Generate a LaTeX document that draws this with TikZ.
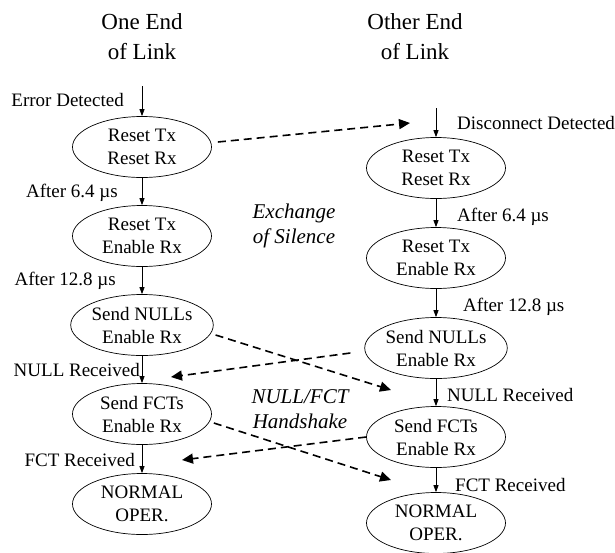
\documentclass[tikz,border=0pt]{standalone}
\usepackage{fontspec}
\setmainfont{Liberation Serif}
\usetikzlibrary{shapes.geometric,arrows.meta}
\begin{document}
\begin{tikzpicture}[x=1pt,y=-1pt,
  state/.style={draw,ellipse,line width=0.7pt,minimum width=139pt,minimum height=61pt,inner sep=0pt,align=center,font=\fontsize{19}{23}\selectfont},
  lbl/.style={inner sep=0pt,font=\fontsize{19}{23}\selectfont},
  ital/.style={inner sep=0pt,align=center,font=\fontsize{21}{25}\selectfont\itshape},
  ttl/.style={inner sep=0pt,align=center,font=\fontsize{23}{30}\selectfont},
  flow/.style={line width=0.8pt,-{Triangle[length=7pt,width=5pt]}},
  msg/.style={line width=1.6pt,dash pattern=on 8pt off 5pt,-{Triangle[length=11pt,width=10pt]}}]
\useasboundingbox (0,0) rectangle (615,552);
% titles
\node[ttl] (t1) at (142,37) {One End\\of Link};
\node[ttl] (t2) at (415,37) {Other End\\of Link};
% left column
\node[state] (L1) at (142,147) {Reset Tx\\Reset Rx};
\node[state] (L2) at (142,236) {Reset Tx\\Enable Rx};
\node[state] (L3) at (142,325) {Send NULLs\\Enable Rx};
\node[state] (L4) at (142,414) {Send FCTs\\Enable Rx};
\node[state] (L5) at (142,504) {NORMAL\\OPER.};
% right column
\node[state] (R1) at (436,168) {Reset Tx\\Reset Rx};
\node[state] (R2) at (436,258) {Reset Tx\\Enable Rx};
\node[state] (R3) at (436,348) {Send NULLs\\Enable Rx};
\node[state] (R4) at (436,437) {Send FCTs\\Enable Rx};
\node[state] (R5) at (436,523) {NORMAL\\OPER.};
% entry points
\coordinate (Lin) at (142,86);
\coordinate (Rin) at (436,108);
\draw[flow] (Lin) -- (L1.north);
\draw[flow] (Rin) -- (R1.north);
\draw[flow] (L1) -- (L2);
\draw[flow] (L2) -- (L3);
\draw[flow] (L3) -- (L4);
\draw[flow] (L4) -- (L5);
\draw[flow] (R1) -- (R2);
\draw[flow] (R2) -- (R3);
\draw[flow] (R3) -- (R4);
\draw[flow] (R4) -- (R5);
% left labels
\node[lbl,anchor=east] (le1) at (124,100) {Error Detected};
\node[lbl,anchor=east] (le2) at (118,193) {After 6.4 µs};
\node[lbl,anchor=east] (le3) at (116,281) {After 12.8 µs};
\node[lbl,anchor=east] (le4) at (140,370) {NULL Received};
\node[lbl,anchor=east] (le5) at (135,460) {FCT Received};
% right labels
\node[lbl,anchor=west] (re1) at (457,123) {Disconnect Detected};
\node[lbl,anchor=west] (re2) at (457,217) {After 6.4 µs};
\node[lbl,anchor=west] (re3) at (463,307) {After 12.8 µs};
\node[lbl,anchor=west] (re4) at (447,395) {NULL Received};
\node[lbl,anchor=west] (re5) at (455,485) {FCT Received};
% italic notes
\node[ital] (n1) at (294,226) {Exchange\\of Silence};
\node[ital] (n2) at (300,409) {NULL/FCT\\Handshake};
% dashed messages
\coordinate (m1e) at (410,123);
\coordinate (m2e) at (391,390);
\coordinate (m3e) at (171,377);
\coordinate (m4e) at (391,480);
\coordinate (m5e) at (182,460);
\draw[msg] ([shift={(6,-5)}]L1.east) -- (m1e);
\draw[msg] ([shift={(2,10)}]L3.east) -- (m2e);
\draw[msg] ([shift={(-14,5)}]R3.west) -- (m3e);
\draw[msg] ([shift={(2,9)}]L4.east) -- (m4e);
\draw[msg] ([shift={(0,0)}]R4.west) -- (m5e);
\end{tikzpicture}
\end{document}
